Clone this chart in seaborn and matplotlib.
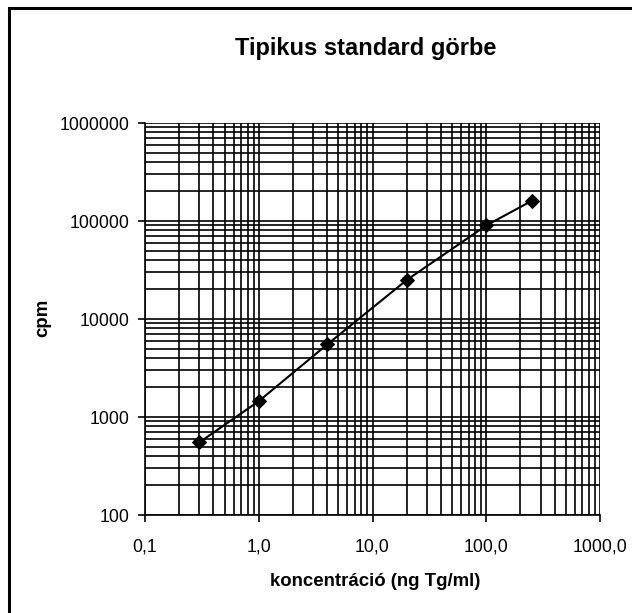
import matplotlib
matplotlib.use("Agg")
import matplotlib.pyplot as plt
import seaborn as sns
import pandas as pd
from matplotlib.patches import Rectangle
from matplotlib.ticker import LogLocator, NullFormatter

# Data
concentration = [0.3, 1.0, 4.0, 20.0, 100.0, 250.0]
cpm = [550, 1450, 5500, 25000, 90000, 160000]
x_ticks = [0.1, 1, 10, 100, 1000]
x_tick_labels = ["0,1", "1,0", "10,0", "100,0", "1000,0"]
y_ticks = [100, 1000, 10000, 100000, 1000000]
y_tick_labels = ["100", "1000", "10000", "100000", "1000000"]
title = "Tipikus standard görbe"
xlabel = "koncentráció (ng Tg/ml)"
ylabel = "cpm"

df = pd.DataFrame({"x": concentration, "y": cpm})

sns.set_style("white")
plt.rcParams["font.family"] = ["Liberation Sans", "DejaVu Sans"]
plt.rcParams["text.color"] = "black"
plt.rcParams["xtick.color"] = "black"
plt.rcParams["ytick.color"] = "black"

fig = plt.figure(figsize=(6.32, 6.13), dpi=100)
ax = fig.add_axes([145/632, 1-515/613, (600-145)/632, (515-123)/613])

sns.lineplot(data=df, x="x", y="y", ax=ax, color="black", linewidth=1.5,
             marker="D", markersize=7.5, markeredgecolor="black",
             markerfacecolor="black")

ax.set_xscale("log")
ax.set_yscale("log")
ax.set_xlim(0.1, 1000)
ax.set_ylim(100, 1000000)

ax.set_xticks(x_ticks)
ax.set_xticklabels(x_tick_labels)
ax.set_yticks(y_ticks)
ax.set_yticklabels(y_tick_labels)
ax.xaxis.set_minor_locator(LogLocator(base=10, subs=range(2, 10)))
ax.yaxis.set_minor_locator(LogLocator(base=10, subs=range(2, 10)))
ax.xaxis.set_minor_formatter(NullFormatter())
ax.yaxis.set_minor_formatter(NullFormatter())

ax.grid(True, which="both", color="black", linewidth=1.2)
ax.set_axisbelow(True)
ax.tick_params(which="major", direction="out", length=5, width=1.2,
               labelsize=12.7, color="black", labelcolor="black")
ax.tick_params(axis="x", which="major", pad=12)
ax.tick_params(axis="y", which="major", pad=6)
ax.tick_params(which="minor", length=0)
ax.tick_params(axis="x", bottom=True)
ax.tick_params(axis="y", left=True)

for s in ["top", "right"]:
    ax.spines[s].set_visible(False)
for s in ["left", "bottom"]:
    ax.spines[s].set_color("black")
    ax.spines[s].set_linewidth(1.2)

ax.set_xlabel("")
ax.set_ylabel("")
fig.text(375/632, 1-582/613, xlabel, ha="center", va="center",
         fontsize=13.4, fontweight="bold", color="black")
fig.text(43/632, 1-318/613, ylabel, ha="center", va="center",
         fontsize=13.4, fontweight="bold", rotation=90, color="black")
fig.text(366/632, 1-48/613, title, ha="center", va="center",
         fontsize=17, fontweight="bold", color="black")

# chart-area border (extends past the right and bottom of the image)
fig.patches.append(Rectangle((8.5/632, -0.1), 1.2, 1 - 8.5/613 + 0.1,
                             transform=fig.transFigure, fill=False,
                             edgecolor="black", linewidth=2.2))

fig.savefig("out.png", dpi=100)
